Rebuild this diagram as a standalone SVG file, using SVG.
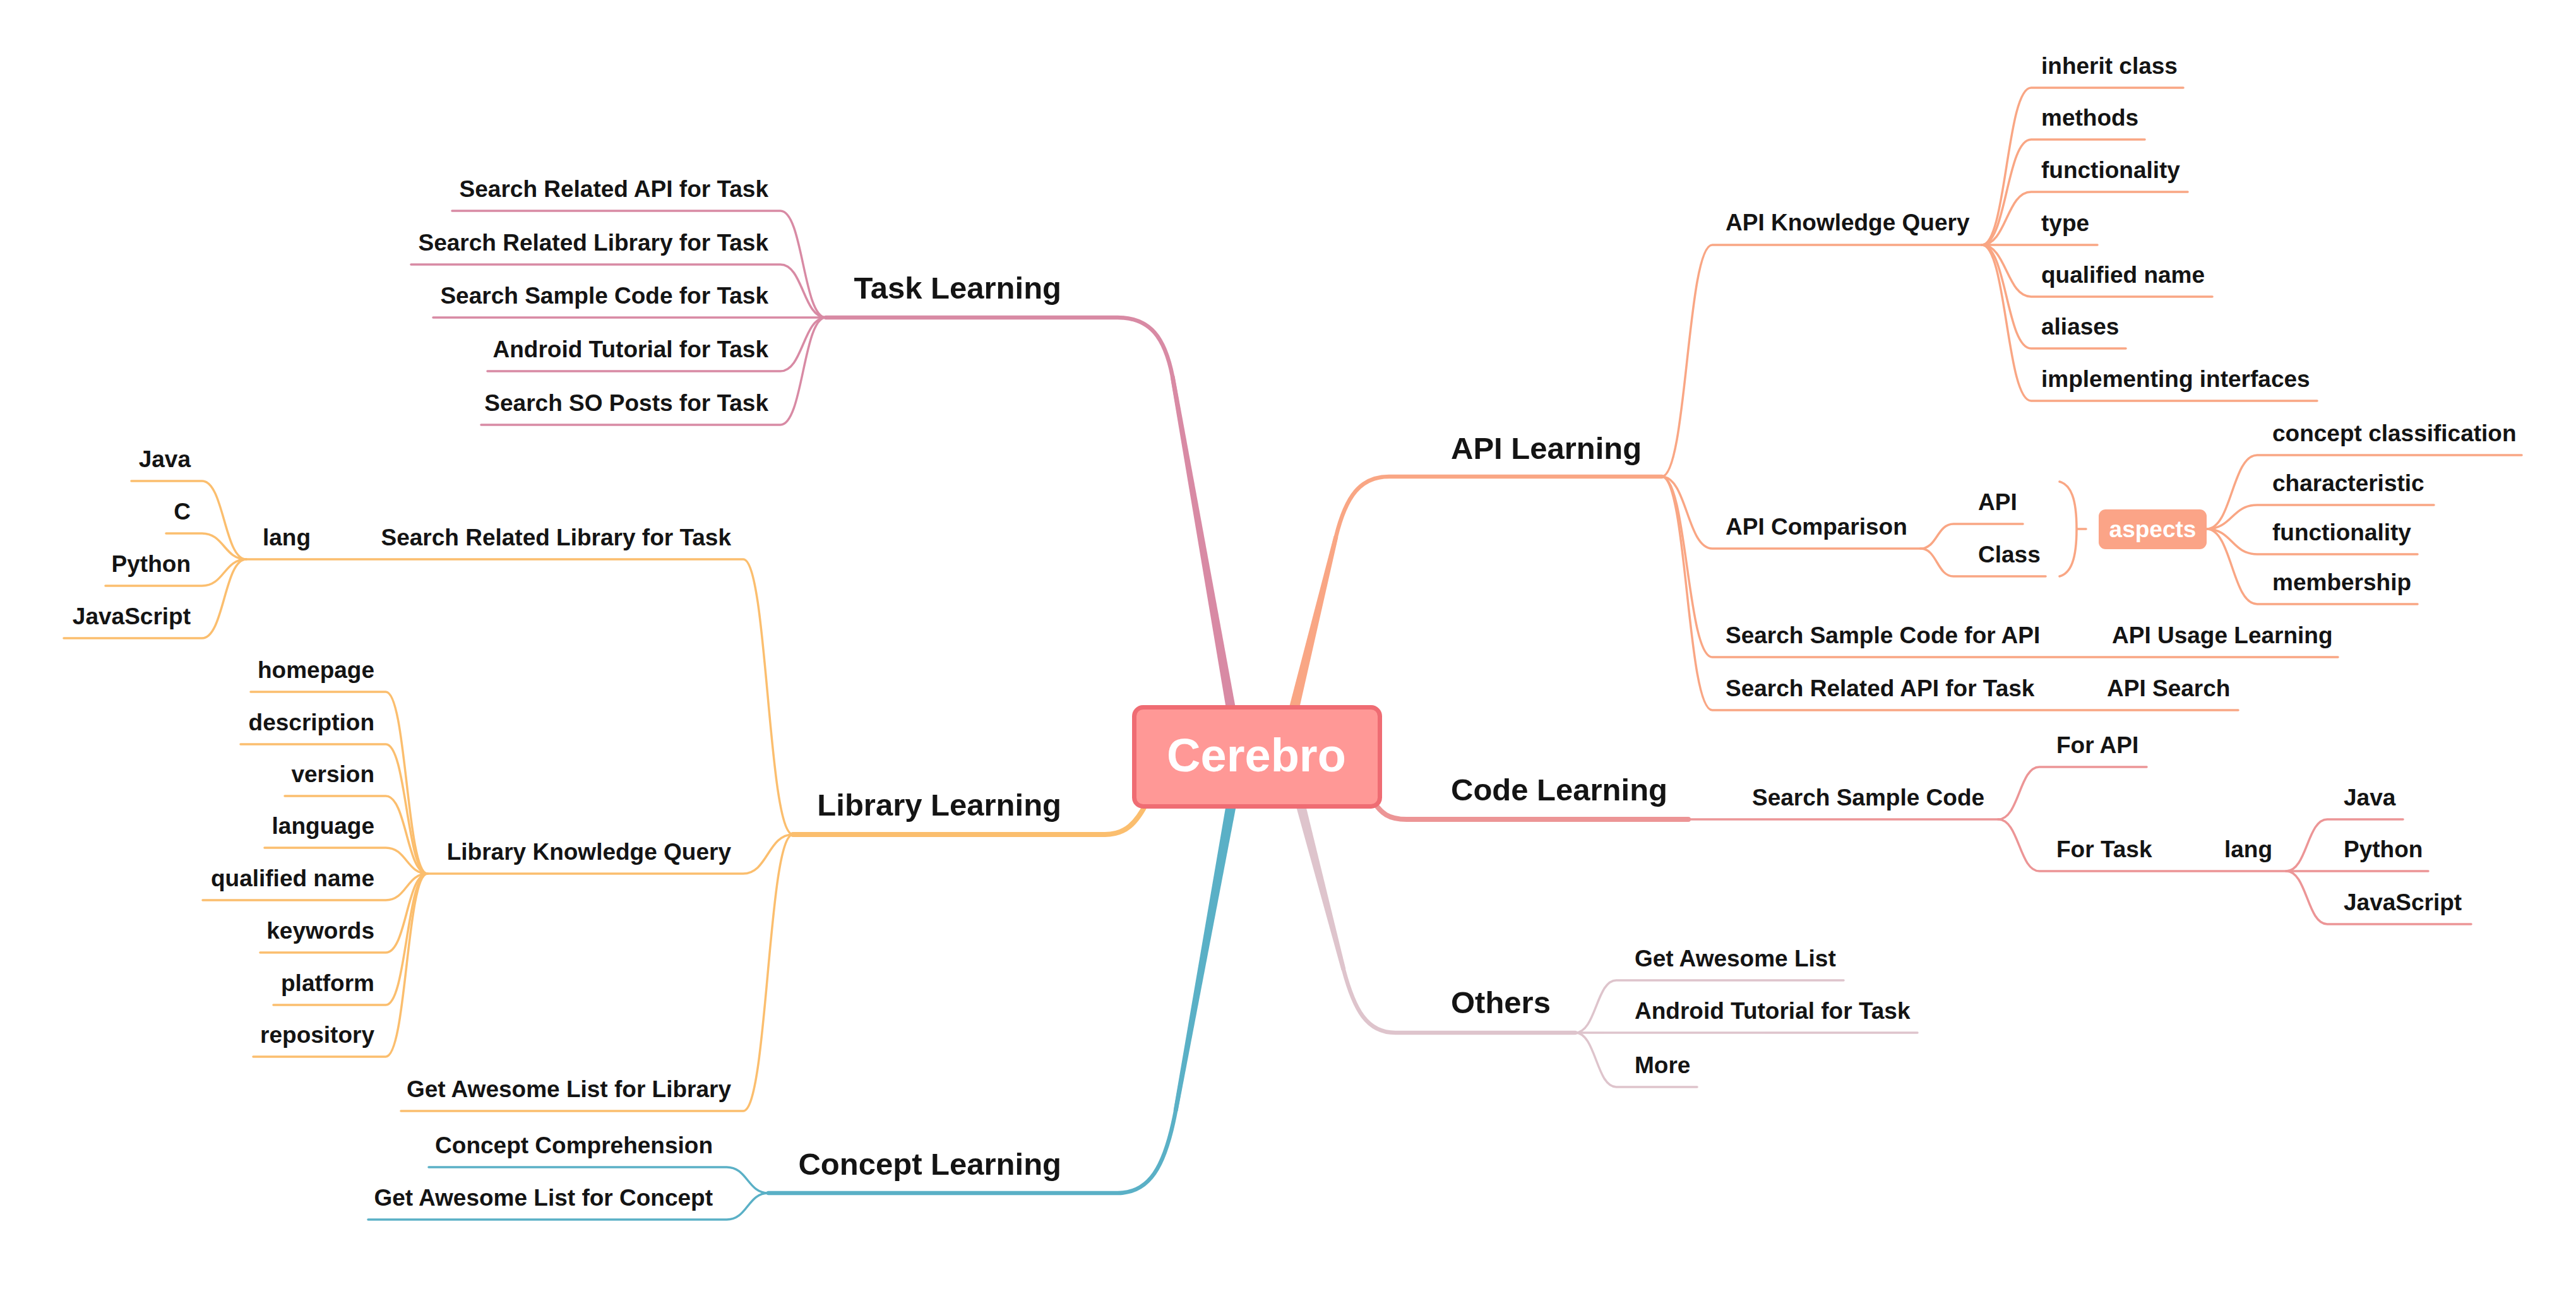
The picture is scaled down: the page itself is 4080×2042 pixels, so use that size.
<svg xmlns="http://www.w3.org/2000/svg" width="4080" height="2042" viewBox="0 0 4080 2042">
<style>
.t{font-family:"Liberation Sans",Arial,Helvetica,sans-serif;font-weight:bold;font-size:37px;fill:#141414}
.m{font-size:49px}
.r{text-anchor:end}
.c{fill:none;stroke-width:3.5;stroke-linecap:round;stroke-linejoin:round}
.b{fill:none;stroke-width:6.5;stroke-linecap:round;stroke-linejoin:round}
.tk{stroke:#D88AA4}.tkf{fill:#D88AA4}
.li{stroke:#FBBE6E}.lif{fill:#FBBE6E}
.co{stroke:#5AB0C6}.cof{fill:#5AB0C6}
.ap{stroke:#F9A684}.apf{fill:#F9A684}
.cd{stroke:#EC9596}.cdf{fill:#EC9596}
.ot{stroke:#DEC4CC}.otf{fill:#DEC4CC}
</style>
<rect width="4080" height="2042" fill="#ffffff"/>
<g id="connectors">
<!-- Task Learning -->
<path class="b tk" d="M1308 503 H1770 C1822 503 1845 535 1857 596 L1950 1125"/>
<polygon class="tkf" points="1957.4,1123.7 1860.4,595.4 1853.6,596.6 1942.6,1126.3"/>
<path class="c tk" d="M716 334 H1236 C1272 334 1272 503 1308 503"/>
<path class="c tk" d="M651 419 H1236 C1272 419 1272 503 1308 503"/>
<path class="c tk" d="M686 503 H1308"/>
<path class="c tk" d="M772 588 H1236 C1272 588 1272 503 1308 503"/>
<path class="c tk" d="M762 673 H1236 C1272 673 1272 503 1308 503"/>
<!-- Library Learning -->
<path class="b li" style="stroke-width:8" d="M1256 1322 H1750 C1782 1322 1800 1305 1818 1268"/>
<path class="c li" d="M390 886 H1177 C1216 886 1216 1322 1256 1322"/>
<path class="c li" d="M677 1384 H1177 C1216 1384 1216 1322 1256 1322"/>
<path class="c li" d="M635 1760 H1177 C1216 1760 1216 1322 1256 1322"/>
<path class="c li" d="M208 762 H320 C355 762 355 886 390 886"/>
<path class="c li" d="M263 845 H320 C355 845 355 886 390 886"/>
<path class="c li" d="M167 928 H320 C355 928 355 886 390 886"/>
<path class="c li" d="M101 1011 H320 C355 1011 355 886 390 886"/>
<path class="c li" d="M397 1096 H611 C644 1096 644 1384 677 1384"/>
<path class="c li" d="M381 1179 H611 C644 1179 644 1384 677 1384"/>
<path class="c li" d="M451 1261 H611 C644 1261 644 1384 677 1384"/>
<path class="c li" d="M419 1343 H611 C644 1343 644 1384 677 1384"/>
<path class="c li" d="M321 1426 H611 C644 1426 644 1384 677 1384"/>
<path class="c li" d="M412 1509 H611 C644 1509 644 1384 677 1384"/>
<path class="c li" d="M433 1592 H611 C644 1592 644 1384 677 1384"/>
<path class="c li" d="M401 1674 H611 C644 1674 644 1384 677 1384"/>
<!-- Concept Learning -->
<path class="b co" d="M1217 1890 H1770 C1820 1890 1845 1850 1862 1760 L1950 1275"/>
<polygon class="cof" points="1957.9,1276.4 1865.4,1760.6 1858.6,1759.4 1942.1,1273.6"/>
<path class="c co" d="M679 1849 H1151 C1184 1849 1184 1890 1217 1890"/>
<path class="c co" d="M583 1932 H1151 C1184 1932 1184 1890 1217 1890"/>
<!-- API Learning -->
<path class="b ap" d="M2049 1125 L2116 850 C2132 785 2155 755 2200 755 H2632"/>
<polygon class="apf" points="2056.8,1126.9 2119.4,850.8 2112.6,849.2 2041.2,1123.1"/>
<path class="c ap" d="M2632 755 C2672 755 2672 388 2712 388 H3139"/>
<path class="c ap" d="M2632 755 C2672 755 2672 869 2712 869 H3042"/>
<path class="c ap" d="M2632 755 C2672 755 2672 1041 2712 1041 H3703"/>
<path class="c ap" d="M2632 755 C2672 755 2672 1125 2712 1125 H3545"/>
<path class="c ap" d="M3139 388 C3178 388 3178 139 3217 139 H3458"/>
<path class="c ap" d="M3139 388 C3178 388 3178 221 3217 221 H3397"/>
<path class="c ap" d="M3139 388 C3178 388 3178 304 3217 304 H3465"/>
<path class="c ap" d="M3139 388 H3322"/>
<path class="c ap" d="M3139 388 C3178 388 3178 470 3217 470 H3504"/>
<path class="c ap" d="M3139 388 C3178 388 3178 552 3217 552 H3367"/>
<path class="c ap" d="M3139 388 C3178 388 3178 635 3217 635 H3670"/>
<path class="c ap" d="M3042 869 C3068 869 3068 830 3094 830 H3204"/>
<path class="c ap" d="M3042 869 C3068 869 3068 913 3094 913 H3240"/>
<path class="c ap" d="M3262 763 C3280 768 3289 790 3289 838 C3289 886 3280 908 3262 913 M3289 838 H3304"/>
<path class="c ap" d="M3495 838 C3535 838 3535 721 3575 721 H3994"/>
<path class="c ap" d="M3495 838 C3535 838 3535 800 3575 800 H3855"/>
<path class="c ap" d="M3495 838 C3535 838 3535 878 3575 878 H3829"/>
<path class="c ap" d="M3495 838 C3535 838 3535 957 3575 957 H3829"/>
<!-- Code Learning -->
<path class="b cd" style="stroke-width:8" d="M2172 1265 C2188 1290 2200 1298 2228 1298 H2674"/>
<path class="c cd" d="M2674 1298 H3165"/>
<path class="c cd" d="M3165 1298 C3198 1298 3198 1215 3230 1215 H3400"/>
<path class="c cd" d="M3165 1298 C3198 1298 3198 1380 3230 1380 H3621"/>
<path class="c cd" d="M3621 1380 C3654 1380 3654 1298 3686 1298 H3806"/>
<path class="c cd" d="M3621 1380 H3846"/>
<path class="c cd" d="M3621 1380 C3654 1380 3654 1464 3686 1464 H3914"/>
<!-- Others -->
<path class="b ot" d="M2060 1275 L2128 1536 C2145 1600 2165 1636 2210 1636 H2495"/>
<polygon class="otf" points="2067.3,1273.1 2131.4,1535.1 2124.6,1536.9 2052.7,1276.9"/>
<path class="c ot" d="M2495 1636 C2528 1636 2528 1553 2560 1553 H2920"/>
<path class="c ot" d="M2495 1636 H3037"/>
<path class="c ot" d="M2495 1636 C2528 1636 2528 1722 2560 1722 H2688"/>
</g>
<g id="root">
<rect x="1796.5" y="1120.5" width="389" height="157" rx="14" fill="#FF9896" stroke="#EF6C73" stroke-width="7"/>
<text x="1990" y="1222" text-anchor="middle" style="font-family:'Liberation Sans',Arial,sans-serif;font-weight:bold;font-size:74px;fill:#ffffff">Cerebro</text>
</g>
<g id="task-learning">
<text class="t m r" x="1681" y="473">Task Learning</text>
<g id="task-children">
<text class="t r" x="1217" y="312">Search Related API for Task</text>
<text class="t r" x="1217" y="397">Search Related Library for Task</text>
<text class="t r" x="1217" y="481">Search Sample Code for Task</text>
<text class="t r" x="1217" y="566">Android Tutorial for Task</text>
<text class="t r" x="1217" y="651">Search SO Posts for Task</text>
</g>
</g>
<g id="library-learning">
<text class="t m r" x="1681" y="1292">Library Learning</text>
<g id="lib-search"><text class="t r" x="1158" y="864">Search Related Library for Task</text></g>
<g id="lib-lang"><text class="t" x="416" y="864">lang</text>
<text class="t r" x="302" y="740">Java</text>
<text class="t r" x="302" y="823">C</text>
<text class="t r" x="302" y="906">Python</text>
<text class="t r" x="302" y="989">JavaScript</text>
</g>
<g id="lib-kq"><text class="t r" x="1158" y="1362">Library Knowledge Query</text>
<text class="t r" x="593" y="1074">homepage</text>
<text class="t r" x="593" y="1157">description</text>
<text class="t r" x="593" y="1239">version</text>
<text class="t r" x="593" y="1321">language</text>
<text class="t r" x="593" y="1404">qualified name</text>
<text class="t r" x="593" y="1487">keywords</text>
<text class="t r" x="593" y="1570">platform</text>
<text class="t r" x="593" y="1652">repository</text>
</g>
<g id="lib-awesome"><text class="t r" x="1158" y="1738">Get Awesome List for Library</text></g>
</g>
<g id="concept-learning">
<text class="t m r" x="1681" y="1861">Concept Learning</text>
<text class="t r" x="1129" y="1827">Concept Comprehension</text>
<text class="t r" x="1129" y="1910">Get Awesome List for Concept</text>
</g>
<g id="api-learning">
<text class="t m" x="2298" y="727">API Learning</text>
<g id="api-kq"><text class="t" x="2733" y="365">API Knowledge Query</text>
<text class="t" x="3233" y="117">inherit class</text>
<text class="t" x="3233" y="199">methods</text>
<text class="t" x="3233" y="282">functionality</text>
<text class="t" x="3233" y="366">type</text>
<text class="t" x="3233" y="448">qualified name</text>
<text class="t" x="3233" y="530">aliases</text>
<text class="t" x="3233" y="613">implementing interfaces</text>
</g>
<g id="api-comparison"><text class="t" x="2733" y="847">API Comparison</text>
<text class="t" x="3133" y="808">API</text>
<text class="t" x="3133" y="891">Class</text>
</g>
<g id="aspects">
<rect x="3324" y="807" width="171" height="63" rx="11" fill="#FBA487"/>
<text class="t" x="3409.5" y="851" text-anchor="middle" style="fill:#ffffff">aspects</text>
<text class="t" x="3599" y="699">concept classification</text>
<text class="t" x="3599" y="778">characteristic</text>
<text class="t" x="3599" y="856">functionality</text>
<text class="t" x="3599" y="935">membership</text>
</g>
<g id="api-sample"><text class="t" x="2733" y="1019">Search Sample Code for API</text>
<text class="t" x="3345" y="1019">API Usage Learning</text></g>
<g id="api-search"><text class="t" x="2733" y="1103">Search Related API for Task</text>
<text class="t" x="3337" y="1103">API Search</text></g>
</g>
<g id="code-learning">
<text class="t m" x="2298" y="1268">Code Learning</text>
<text class="t" x="2775" y="1276">Search Sample Code</text>
<text class="t" x="3257" y="1193">For API</text>
<text class="t" x="3257" y="1358">For Task</text>
<text class="t" x="3523" y="1358">lang</text>
<text class="t" x="3712" y="1276">Java</text>
<text class="t" x="3712" y="1358">Python</text>
<text class="t" x="3712" y="1442">JavaScript</text>
</g>
<g id="others">
<text class="t m" x="2298" y="1605">Others</text>
<text class="t" x="2589" y="1531">Get Awesome List</text>
<text class="t" x="2589" y="1614">Android Tutorial for Task</text>
<text class="t" x="2589" y="1700">More</text>
</g>
</svg>
